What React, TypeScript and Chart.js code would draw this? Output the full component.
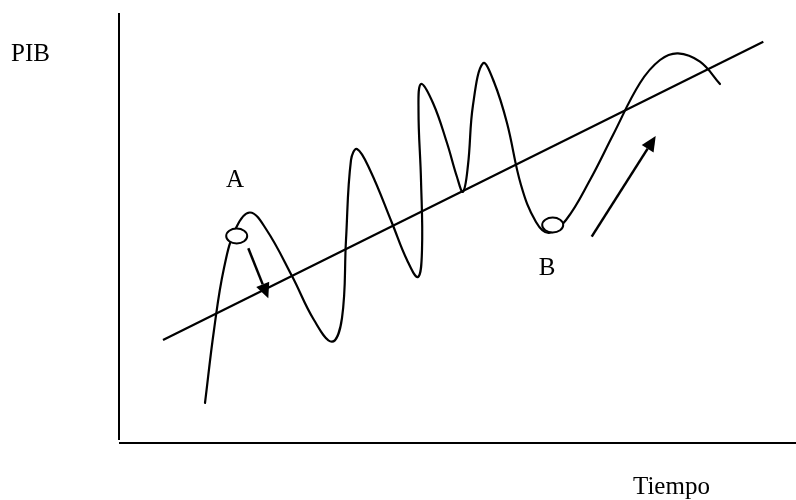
import React, { useEffect, useRef } from "react";
import { Chart, registerables } from "chart.js";

Chart.register(...registerables);

// Time (x) and PIB (y) values, arbitrary units
const cycleX = [86, 95, 105, 117, 131, 147, 173, 195, 213, 223, 227, 232, 238, 251, 273, 288, 299, 303, 302, 299.5, 302, 314, 328, 338, 344, 349, 354, 364, 375, 388, 402, 417, 430, 447, 471, 494, 521, 541, 559, 581, 601];
const cycleY = [40, 113, 175, 215, 230.5, 214, 167, 123, 101.3, 125, 203, 283, 294, 273, 220, 183, 166, 193, 263, 333, 359, 340, 300, 266, 251.3, 278, 338, 379.7, 361, 320, 258, 221, 210, 223, 263, 308, 360, 383, 389.7, 381.3, 359];

const trendX = [44, 644.3];
const trendY = [103, 401.3];

const markerLabels = ["A", "B"];
const markerX = [117.7, 433.7];
const markerY = [207, 218];
const labelX = [116, 428];
const labelY = [256, 168];

const arrowFromX = [129.3, 472.7];
const arrowFromY = [194.7, 206.3];
const arrowToX = [149.3, 536.7];
const arrowToY = [144.7, 307];

const yTitle = "PIB";
const xTitle = "Tiempo";

const FONT = "25px 'Liberation Serif', 'Times New Roman', serif";

const decorPlugin = {
  id: "decor",
  afterDatasetsDraw(chart: any) {
    const ctx = chart.ctx;
    const xs = chart.scales.x;
    const ys = chart.scales.y;
    const area = chart.chartArea;
    ctx.save();
    // axes
    ctx.strokeStyle = "#000";
    ctx.lineWidth = 2;
    ctx.beginPath();
    ctx.moveTo(area.left, area.top);
    ctx.lineTo(area.left, area.bottom - 3);
    ctx.stroke();
    ctx.beginPath();
    ctx.moveTo(area.left, area.bottom);
    ctx.lineTo(area.right, area.bottom);
    ctx.stroke();

    // arrows
    for (let i = 0; i < arrowFromX.length; i++) {
      const x0 = xs.getPixelForValue(arrowFromX[i]);
      const y0 = ys.getPixelForValue(arrowFromY[i]);
      const x1 = xs.getPixelForValue(arrowToX[i]);
      const y1 = ys.getPixelForValue(arrowToY[i]);
      const ang = Math.atan2(y1 - y0, x1 - x0);
      const headLen = 15;
      const headW = 7;
      const bx = x1 - headLen * Math.cos(ang);
      const by = y1 - headLen * Math.sin(ang);
      ctx.lineWidth = 2.5;
      ctx.beginPath();
      ctx.moveTo(x0, y0);
      ctx.lineTo(bx, by);
      ctx.stroke();
      ctx.fillStyle = "#000";
      ctx.beginPath();
      ctx.moveTo(x1, y1);
      ctx.lineTo(bx + headW * Math.sin(ang), by - headW * Math.cos(ang));
      ctx.lineTo(bx - headW * Math.sin(ang), by + headW * Math.cos(ang));
      ctx.closePath();
      ctx.fill();
    }

    // ellipse markers
    for (let i = 0; i < markerX.length; i++) {
      const cx = xs.getPixelForValue(markerX[i]);
      const cy = ys.getPixelForValue(markerY[i]);
      ctx.beginPath();
      ctx.ellipse(cx, cy, 10.5, 7.5, 0, 0, Math.PI * 2);
      ctx.fillStyle = "#fff";
      ctx.fill();
      ctx.lineWidth = 2;
      ctx.strokeStyle = "#000";
      ctx.stroke();
    }

    // texts
    ctx.fillStyle = "#000";
    ctx.font = FONT;
    ctx.textBaseline = "alphabetic";
    ctx.textAlign = "center";
    for (let i = 0; i < markerLabels.length; i++) {
      ctx.fillText(markerLabels[i], xs.getPixelForValue(labelX[i]), ys.getPixelForValue(labelY[i]));
    }
    ctx.textAlign = "left";
    ctx.fillText(yTitle, 11, 61);
    ctx.fillText(xTitle, 633, 494);
    ctx.restore();
  },
};

export default function App() {
  const ref = useRef<HTMLCanvasElement | null>(null);
  useEffect(() => {
    if (!ref.current) return;
    const chart = new Chart(ref.current, {
      type: "scatter",
      data: {
        datasets: [
          {
            data: trendX.map((x, i) => ({ x, y: trendY[i] })),
            showLine: true,
            borderColor: "#000",
            borderWidth: 2.2,
            pointRadius: 0,
            tension: 0,
          },
          {
            data: cycleX.map((x, i) => ({ x, y: cycleY[i] })),
            showLine: true,
            borderColor: "#000",
            borderWidth: 2.2,
            pointRadius: 0,
            tension: 0.4,
            borderJoinStyle: "round",
            borderCapStyle: "round",
          },
        ],
      },
      options: {
        animation: false,
        responsive: false,
        layout: { padding: { left: 119, right: 0, top: 13, bottom: 57 } },
        plugins: { legend: { display: false }, tooltip: { enabled: false } },
        scales: {
          x: { type: "linear", min: 0, max: 677, display: false },
          y: { type: "linear", min: 0, max: 430, display: false },
        },
      },
      plugins: [decorPlugin],
    });
    return () => chart.destroy();
  }, []);
  return (
    <div style={{ position: "absolute", left: 0, top: 0, width: 796, height: 500, background: "#fff" }}>
      <canvas ref={ref} width={796} height={500} style={{ width: 796, height: 500 }} />
    </div>
  );
}
